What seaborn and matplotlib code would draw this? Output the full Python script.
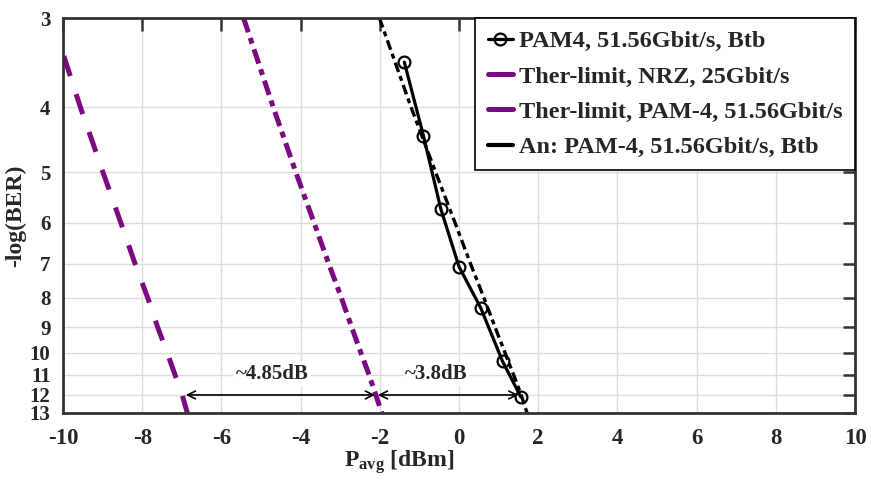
import numpy as np
import matplotlib
matplotlib.use("Agg")
import matplotlib.pyplot as plt
import seaborn as sns
from matplotlib.lines import Line2D
from matplotlib.ticker import NullLocator

# ---------------- data ----------------
ber_levels = [3, 4, 5, 6, 7, 8, 9, 10, 11, 12, 13]          # -log(BER)
nrz_thermal_p = [-10.29, -9.56, -8.99, -8.54, -8.18, -7.86, -7.61, -7.37, -7.17, -6.99, -6.86]
pam4_thermal_p = [-5.44, -4.69, -4.12, -3.66, -3.29, -2.97, -2.71, -2.48, -2.27, -2.10, -1.95]
pam4_analytic_p = [-2.01, -1.21, -0.59, -0.10, 0.29, 0.63, 0.91, 1.16, 1.38, 1.57, 1.72]
pam4_meas_p = [-1.38, -0.90, -0.46, 0.00, 0.55, 1.10, 1.56]
pam4_meas_ber = [3.45, 4.4, 5.7, 7.08, 8.33, 10.38, 12.1]

x_ticks = [-10, -8, -6, -4, -2, 0, 2, 4, 6, 8, 10]
legend_labels = ["PAM4, 51.56Gbit/s, Btb",
                 "Ther-limit, NRZ, 25Gbit/s",
                 "Ther-limit, PAM-4, 51.56Gbit/s",
                 "An: PAM-4, 51.56Gbit/s, Btb"]
gap_ber = 12
gap1 = (-6.9, -2.12, "~4.85dB")
gap2 = (-2.05, 1.50, "~3.8dB")
gap_text_ber = 10.95

# ---------------- style ----------------
sns.set_style("white")
plt.rcParams["font.family"] = ["Liberation Serif", "DejaVu Serif"]
plt.rcParams["font.weight"] = "bold"
plt.rcParams["axes.labelweight"] = "bold"
plt.rcParams["mathtext.fontset"] = "custom"
plt.rcParams["mathtext.rm"] = "Liberation Serif:bold"
plt.rcParams["mathtext.it"] = "Liberation Serif:bold"
plt.rcParams["mathtext.bf"] = "Liberation Serif:bold"
plt.rcParams["mathtext.default"] = "rm"

purple = "#7b0a80"
frame_c = "#333333"

fig = plt.figure(figsize=(8.71, 4.80), dpi=100)
ax = fig.add_axes([63 / 871, 1 - 413 / 480, 792 / 871, 395 / 480])


def fwd(v):
    v = np.asarray(v, dtype=float)
    return -np.power(np.clip(v, 1e-3, None), -0.25)


def inv(y):
    y = np.asarray(y, dtype=float)
    return np.power(np.clip(-y, 1e-6, None), -4.0)


ax.set_yscale("function", functions=(fwd, inv))

# ---------------- lines ----------------
sns.lineplot(x=nrz_thermal_p, y=ber_levels, ax=ax, sort=False, estimator=None,
             color=purple, lw=3.6)
ax.lines[-1].set_dashes([4.2, 3.8])
ax.lines[-1].set_dash_capstyle("butt")

sns.lineplot(x=pam4_thermal_p, y=ber_levels, ax=ax, sort=False, estimator=None,
             color=purple, lw=3.6)
ax.lines[-1].set_dashes([3.0, 1.2, 1.2, 1.2])

sns.lineplot(x=pam4_analytic_p, y=ber_levels, ax=ax, sort=False, estimator=None,
             color="black", lw=2.4)
ax.lines[-1].set_dashes([3.0, 1.3, 1.5, 1.3])

sns.lineplot(x=pam4_meas_p, y=pam4_meas_ber, ax=ax, sort=False, estimator=None,
             color="black", lw=2.3, marker="o", markersize=8.5,
             markerfacecolor="none", markeredgecolor="black", markeredgewidth=1.6)

# ---------------- axes ----------------
ax.set_xlim(-10, 10)
ax.set_ylim(13, 3)
ax.set_xticks(x_ticks)
ax.set_xticklabels([str(t) for t in x_ticks])
ax.set_yticks(ber_levels)
ax.set_yticklabels([str(t) for t in ber_levels])
ax.yaxis.set_minor_locator(NullLocator())
ax.xaxis.set_minor_locator(NullLocator())

ax.grid(True, color="#dcdcdc", lw=1.0)
ax.set_axisbelow(True)
ax.tick_params(which="major", direction="in", length=9, width=1.8, color=frame_c,
               top=True, right=True)
ax.tick_params(axis="x", pad=11, labelsize=16.5)
ax.tick_params(axis="y", pad=9, labelsize=15)
for s in ax.spines.values():
    s.set_color(frame_c)
    s.set_linewidth(2)
    s.set_visible(True)

ax.set_xlabel(r"P$_{\mathrm{avg}}$ [dBm]", fontsize=17)
ax.xaxis.set_label_coords(0.425, -0.09)
ax.set_ylabel("-log(BER)", fontsize=17)
ax.yaxis.set_label_coords(-0.046, 0.5)

# ---------------- annotations ----------------
for x0, x1, txt in (gap1, gap2):
    ax.annotate("", xy=(x0, gap_ber), xytext=(x1, gap_ber),
                arrowprops=dict(arrowstyle="<->", color="black", lw=1.2,
                                shrinkA=0, shrinkB=0, mutation_scale=14))
ax.text(-4.71, gap_text_ber, gap1[2], ha="center", va="center", fontsize=15,
        bbox=dict(fc="white", ec="none", pad=1.5))
ax.text(-0.58, gap_text_ber, gap2[2], ha="center", va="center", fontsize=15,
        bbox=dict(fc="white", ec="none", pad=1.5))

# ---------------- legend ----------------
handles = [
    Line2D([], [], color="black", lw=2.3, marker="o", markersize=8.5,
           markerfacecolor="none", markeredgewidth=1.6),
    Line2D([], [], color=purple, lw=3.6),
    Line2D([], [], color=purple, lw=3.6),
    Line2D([], [], color="black", lw=3.0),
]
leg = ax.legend(handles, legend_labels, loc="upper right", borderaxespad=0,
                fontsize=17.5, handlelength=1.05, handletextpad=0.25,
                labelspacing=0.55, borderpad=0.5, fancybox=False,
                framealpha=1, edgecolor="black")
leg.get_frame().set_linewidth(1.2)

fig.savefig("out.png", dpi=100)
